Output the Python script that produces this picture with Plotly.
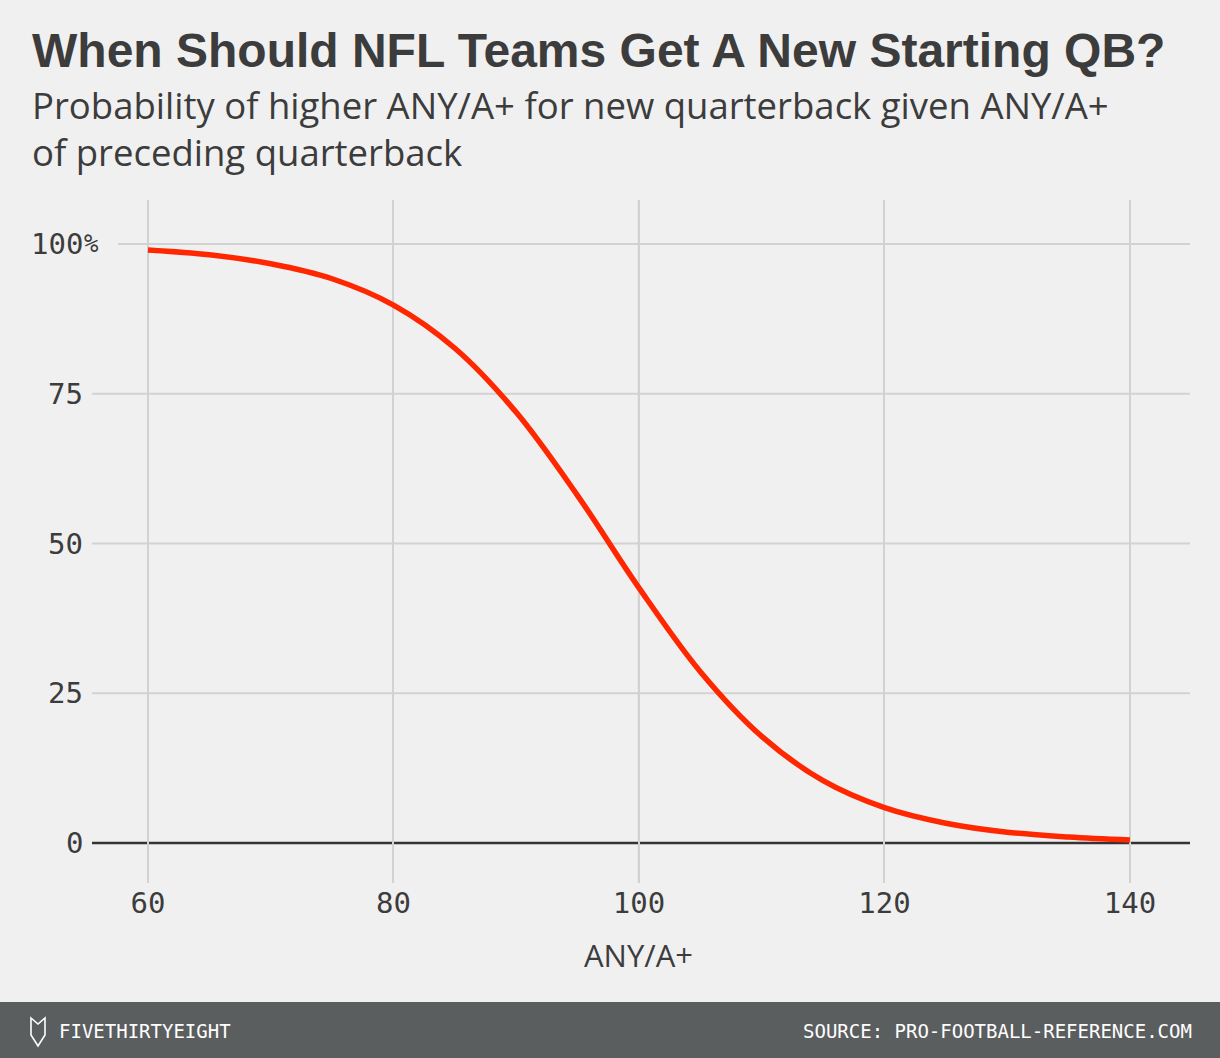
import plotly.graph_objects as go

# ---------------- data ----------------
any_a_plus = [60, 65, 70, 75, 80, 85, 90, 95, 100, 105, 110, 115, 120, 125, 130, 135, 140]
prob_higher = [99.0, 98.2, 96.7, 94.2, 89.8, 82.6, 71.9, 58.0, 42.6, 28.6, 17.8, 10.4, 5.9, 3.3, 1.8, 1.0, 0.5]
x_ticks = [60, 80, 100, 120, 140]
y_ticks = [0, 25, 50, 75, 100]
y_tick_labels = ["0", "25", "50", "75", "100"]
reference_x = 100

title = "When Should NFL Teams Get A New Starting QB?"
subtitle1 = "Probability of higher ANY/A+ for new quarterback given ANY/A+"
subtitle2 = "of preceding quarterback"
x_title = "ANY/A+"
footer_left = "FIVETHIRTYEIGHT"
footer_right = "SOURCE: PRO-FOOTBALL-REFERENCE.COM"

# ---------------- layout geometry ----------------
W_FIG, H_FIG = 1220, 1058
L, R, T, B = 92, 1190, 200, 883
PW, PH = R - L, B - T


def px_x(px):
    return (px - L) / PW


def px_y(py):
    return (B - py) / PH


BG = "#f0f0f0"
TXT = "#3c3c3c"
GRID = "#d2d2d2"
RED = "#ff2700"
MONO = "DejaVu Sans Mono"

fig = go.Figure()
fig.add_trace(go.Scatter(
    x=any_a_plus, y=prob_higher, mode="lines",
    line=dict(color=RED, width=5.5, shape="spline", smoothing=1.0),
    hoverinfo="skip", showlegend=False,
))

shapes = []
# horizontal gridlines
for v in y_ticks:
    if v == 0:
        continue
    x0 = px_x(118) if v == 100 else 0
    shapes.append(dict(type="line", xref="paper", yref="y", x0=x0, x1=1, y0=v, y1=v,
                       line=dict(color=GRID, width=2), layer="below"))
# zero baseline
shapes.append(dict(type="line", xref="paper", yref="y", x0=0, x1=1, y0=0, y1=0,
                   line=dict(color="#333333", width=2.5), layer="below"))
# reference line at 100
shapes.append(dict(type="line", xref="x", yref="paper", x0=reference_x, x1=reference_x, y0=0, y1=1,
                   line=dict(color="#333333", width=2), layer="below"))
# footer bar
shapes.append(dict(type="rect", xref="paper", yref="paper",
                   x0=px_x(0), x1=px_x(W_FIG), y0=px_y(H_FIG), y1=px_y(1002),
                   fillcolor="#5b5e5f", line=dict(width=0), layer="above"))


# small fox-head logo in the footer
def pt(px, py):
    return f"{px_x(px):.5f},{px_y(py):.5f}"


logo = ("M " + pt(31, 1018) + " L " + pt(38, 1024) + " L " + pt(45, 1018) + " L " + pt(45, 1035)
        + " L " + pt(38, 1046) + " L " + pt(31, 1035) + " Z")
shapes.append(dict(type="path", xref="paper", yref="paper", path=logo,
                   line=dict(color="#ffffff", width=1.6), fillcolor="rgba(0,0,0,0)", layer="above"))

annotations = [
    dict(text=title, xref="paper", yref="paper", x=px_x(30), y=px_y(50), xanchor="left", yanchor="middle",
         showarrow=False, font=dict(family="Liberation Sans", size=48, color=TXT, weight="bold")),
    dict(text=subtitle1 + "<br>" + subtitle2, xref="paper", yref="paper", x=px_x(30), y=px_y(129),
         xanchor="left", yanchor="middle", align="left",
         showarrow=False, font=dict(family="Open Sans", size=36.5, color=TXT)),
    dict(text=x_title, xref="x", yref="paper", x=reference_x, y=px_y(955), xanchor="center", yanchor="middle",
         showarrow=False, font=dict(family="Open Sans", size=31, color=TXT)),
    dict(text=footer_left, xref="paper", yref="paper", x=px_x(57), y=px_y(1031), xanchor="left", yanchor="middle",
         showarrow=False, font=dict(family=MONO, size=19, color="#ffffff")),
    dict(text=footer_right, xref="paper", yref="paper", x=px_x(1194), y=px_y(1031), xanchor="right",
         yanchor="middle", showarrow=False, font=dict(family=MONO, size=19, color="#ffffff")),
]
# y tick labels
for v, lab in zip(y_ticks, y_tick_labels):
    annotations.append(dict(text=lab, xref="paper", yref="y", x=px_x(85), y=v, xanchor="right",
                            yanchor="middle", showarrow=False, font=dict(family=MONO, size=29, color=TXT)))
    if v == 100:
        annotations.append(dict(text="%", xref="paper", yref="y", x=px_x(82), y=v, xanchor="left",
                                yanchor="middle", showarrow=False, font=dict(family=MONO, size=24, color=TXT)))

fig.update_layout(
    width=W_FIG, height=H_FIG,
    margin=dict(l=L, r=W_FIG - R, t=T, b=H_FIG - B, pad=0),
    paper_bgcolor=BG, plot_bgcolor=BG,
    shapes=shapes, annotations=annotations,
    showlegend=False,
    xaxis=dict(range=[55.44, 144.89], tickmode="array", tickvals=x_ticks,
               ticktext=[str(v) for v in x_ticks],
               showgrid=True, gridcolor=GRID, gridwidth=2, zeroline=False, showline=False,
               ticks="", tickfont=dict(family=MONO, size=29, color=TXT), fixedrange=True),
    yaxis=dict(range=[-6.68, 107.35], tickmode="array", tickvals=y_ticks, showticklabels=False,
               showgrid=False, zeroline=False, showline=False, ticks="", fixedrange=True),
)

fig.write_html("out.html", config={"displayModeBar": False},
               post_script="document.body.style.margin='0';document.body.style.background='#f0f0f0';")
